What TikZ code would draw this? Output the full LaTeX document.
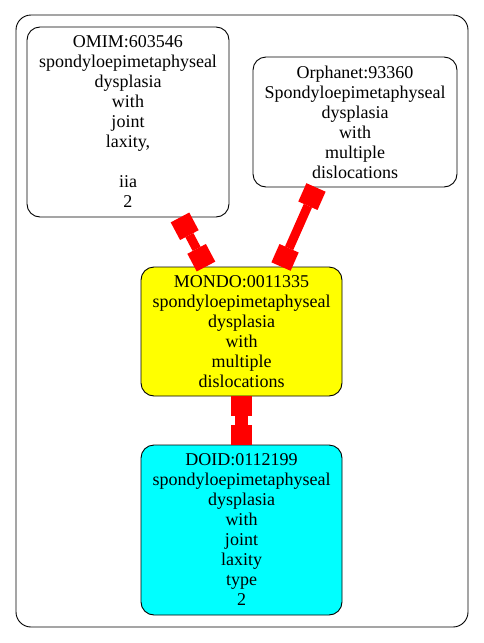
\documentclass[tikz,border=0pt]{standalone}
\usepackage{fontspec}
\setmainfont{Liberation Serif}
\usetikzlibrary{arrows.meta}
\definecolor{gvred}{RGB}{255,0,0}
\definecolor{gvyellow}{RGB}{255,255,0}
\definecolor{gvcyan}{RGB}{0,255,255}
\tikzset{
    term/.style={draw, rounded corners=13pt, line width=0.9pt, align=center, inner sep=0pt,
                 font=\fontsize{18}{20}\selectfont},
    link/.style={draw=gvred, line width=9pt,
                 {Square[length=20pt,width=21pt,line width=0pt]}-{Square[length=20pt,width=21pt,line width=0pt]}}
}

\begin{document}
\begin{tikzpicture}[x=1pt,y=-1pt]
    \useasboundingbox (0,0) rectangle (484,643);
    \draw[line width=0.9pt, rounded corners=15pt] (16,15) rectangle (468,627);

    \node[term, minimum width=202pt, minimum height=190pt] (omim) at (128,122)
        {OMIM:603546\\spondyloepimetaphyseal\\dysplasia\\with\\joint\\laxity,\\\mbox{}\\iia\\2};
    \node[term, minimum width=204pt, minimum height=130pt] (orpha) at (355,122)
        {Orphanet:93360\\Spondyloepimetaphyseal\\dysplasia\\with\\multiple\\dislocations};
    \node[term, fill=gvyellow, minimum width=201pt, minimum height=129pt] (mondo) at (241.5,331.5)
        {MONDO:0011335\\spondyloepimetaphyseal\\dysplasia\\with\\multiple\\dislocations};
    \node[term, fill=gvcyan, minimum width=201pt, minimum height=170pt] (doid) at (241.5,530)
        {DOID:0112199\\spondyloepimetaphyseal\\dysplasia\\with\\joint\\laxity\\type\\2};

    %edges
    \draw[link] ([xshift=52pt]omim.south) -- ([xshift=-35.5pt]mondo.north);
    \draw[link] ([xshift=-39pt]orpha.south) -- ([xshift=39.5pt]mondo.north);
    \draw[link, line width=13pt] (mondo.south) -- (doid.north);
\end{tikzpicture}
\end{document}
